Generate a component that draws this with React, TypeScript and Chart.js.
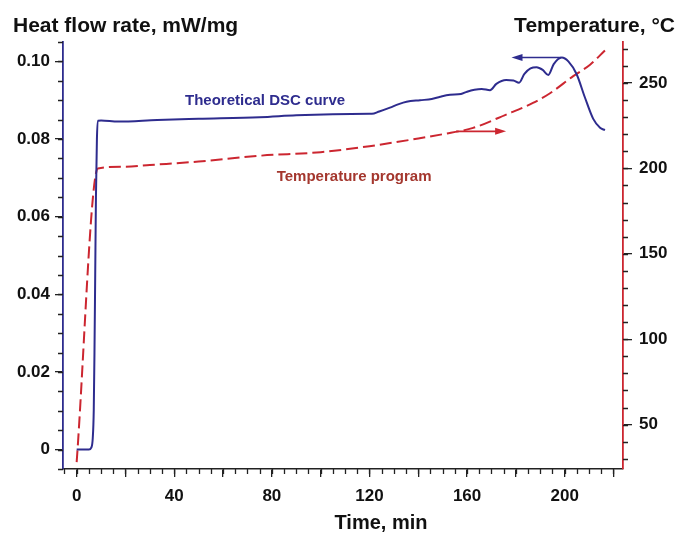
import React, { useEffect, useRef } from "react";
import { Chart, registerables } from "chart.js";

Chart.register(...registerables);

// ---- data ----
const TIME_DSC = [0, 5, 6, 6.6, 7.0, 7.3, 7.6, 7.9, 8.3, 8.8, 10, 17, 33, 50, 75, 90, 105, 120, 121, 124, 128.4, 132, 135.2, 140.7, 145.5, 149, 153, 157.5, 160, 163, 166, 169.4, 172, 176, 179, 181.3, 183.5, 186, 188.5, 191, 193.3, 195.5, 198.8, 201.5, 204.9, 208.3, 211.7, 214.5, 216.5];
const HEAT_FLOW = [0, 0, 0.0005, 0.003, 0.010, 0.025, 0.045, 0.065, 0.080, 0.0847, 0.0848, 0.0845, 0.0849, 0.0852, 0.0856, 0.0861, 0.0864, 0.0865, 0.0865, 0.0871, 0.0881, 0.0890, 0.0896, 0.0900, 0.0903, 0.0909, 0.0914, 0.0916, 0.0922, 0.0927, 0.0929, 0.0926, 0.0942, 0.0952, 0.0951, 0.0945, 0.0968, 0.0982, 0.0985, 0.0978, 0.0965, 0.0993, 0.1010, 0.1000, 0.0967, 0.0907, 0.0852, 0.0829, 0.0823];

const TIME_TEMP = [0, 8.7, 20, 30, 50, 75, 100, 120, 140, 150, 162.5, 176, 187, 194, 203.5, 210.4, 216.5];
const TEMPERATURE = [28, 200, 201, 202, 204, 207.4, 209.5, 213, 217.5, 220, 223.7, 231.5, 238.3, 244, 254, 260.7, 269];

const X_TICKS = [0, 20, 40, 60, 80, 100, 120, 140, 160, 180, 200, 220];
const X_LABELS = [0, 40, 80, 120, 160, 200];
const LEFT_TICKS = [0, 0.02, 0.04, 0.06, 0.08, 0.1];
const RIGHT_TICKS = [50, 100, 150, 200, 250];

const X_RANGE = [-5.6, 223.9];
const LEFT_RANGE = [-0.005, 0.105];
const RIGHT_RANGE = [24, 274];

const X_MINOR_STEP = 5;
const LEFT_MINOR_STEP = 0.005;
const RIGHT_MINOR_STEP = 10;

// annotations (data coordinates)
const DSC_ARROW = { y: 0.101, from: 198.5, to: 178.2 };
const TEMP_ARROW = { y: 221.7, from: 155.5, to: 176 };
const DSC_LABEL = { text: "Theoretical DSC curve", x: 77.2, y: 0.0899 };
const TEMP_LABEL = { text: "Temperature program", x: 113.7, y: 195.2 };

const NAVY = "#2e2c8e";
const RED = "#cc2630";
const BROWN = "#a4372e";
const FONT = "'Liberation Sans', Arial, sans-serif";

function minorValues(min: number, max: number, step: number) {
  const out: number[] = [];
  const start = Math.ceil(min / step - 1e-9);
  const end = Math.floor(max / step + 1e-9);
  for (let i = start; i <= end; i++) out.push(+(i * step).toFixed(6));
  return out;
}

const decorPlugin = {
  id: "decor",
  afterDraw(chart: any) {
    const { ctx, chartArea } = chart;
    const x = chart.scales.x;
    const y = chart.scales.y;
    const y1 = chart.scales.y1;
    ctx.save();

    // minor ticks
    ctx.lineWidth = 1.3;
    ctx.strokeStyle = "#222";
    ctx.beginPath();
    minorValues(X_RANGE[0], X_RANGE[1], X_MINOR_STEP).forEach((v) => {
      const p = Math.round(x.getPixelForValue(v)) + 0.5;
      ctx.moveTo(p, chartArea.bottom);
      ctx.lineTo(p, chartArea.bottom + 5);
    });
    ctx.stroke();
    ctx.beginPath();
    minorValues(LEFT_RANGE[0], LEFT_RANGE[1], LEFT_MINOR_STEP).forEach((v) => {
      const p = Math.round(y.getPixelForValue(v)) + 0.5;
      ctx.moveTo(chartArea.left, p);
      ctx.lineTo(chartArea.left - 5, p);
    });
    ctx.stroke();
    ctx.beginPath();
    minorValues(RIGHT_RANGE[0], RIGHT_RANGE[1], RIGHT_MINOR_STEP).forEach((v) => {
      const p = Math.round(y1.getPixelForValue(v)) + 0.5;
      ctx.moveTo(chartArea.right, p);
      ctx.lineTo(chartArea.right + 5, p);
    });
    ctx.stroke();

    // arrows
    const arrow = (x0: number, x1: number, py: number, color: string) => {
      ctx.strokeStyle = color;
      ctx.fillStyle = color;
      ctx.lineWidth = 1.6;
      const dir = Math.sign(x1 - x0);
      ctx.beginPath();
      ctx.moveTo(x0, py);
      ctx.lineTo(x1 - dir * 8, py);
      ctx.stroke();
      ctx.beginPath();
      ctx.moveTo(x1, py);
      ctx.lineTo(x1 - dir * 11, py - 3.5);
      ctx.lineTo(x1 - dir * 11, py + 3.5);
      ctx.closePath();
      ctx.fill();
    };
    arrow(
      x.getPixelForValue(DSC_ARROW.from),
      x.getPixelForValue(DSC_ARROW.to),
      y.getPixelForValue(DSC_ARROW.y),
      NAVY
    );
    arrow(
      x.getPixelForValue(TEMP_ARROW.from),
      x.getPixelForValue(TEMP_ARROW.to),
      y1.getPixelForValue(TEMP_ARROW.y),
      RED
    );

    // in-plot labels
    ctx.font = `bold 15px ${FONT}`;
    ctx.textAlign = "center";
    ctx.textBaseline = "middle";
    ctx.fillStyle = NAVY;
    ctx.fillText(DSC_LABEL.text, x.getPixelForValue(DSC_LABEL.x), y.getPixelForValue(DSC_LABEL.y));
    ctx.fillStyle = BROWN;
    ctx.fillText(TEMP_LABEL.text, x.getPixelForValue(TEMP_LABEL.x), y1.getPixelForValue(TEMP_LABEL.y));

    // axis titles
    ctx.fillStyle = "#111";
    ctx.textBaseline = "alphabetic";
    ctx.font = `bold 21px ${FONT}`;
    ctx.textAlign = "left";
    ctx.fillText("Heat flow rate, mW/mg", 13, 32);
    ctx.textAlign = "right";
    ctx.fillText("Temperature, \u00B0C", 675, 32);
    ctx.font = `bold 20px ${FONT}`;
    ctx.textAlign = "center";
    ctx.fillText("Time, min", 381, 529);

    ctx.restore();
  },
};

export default function App() {
  const ref = useRef<HTMLCanvasElement | null>(null);

  useEffect(() => {
    if (!ref.current) return;
    const tickFont = { family: FONT, size: 17, weight: "bold" as const };
    const chart = new Chart(ref.current, {
      type: "line",
      data: {
        datasets: [
          {
            label: "Theoretical DSC curve",
            data: TIME_DSC.map((t, i) => ({ x: t, y: HEAT_FLOW[i] })),
            yAxisID: "y",
            borderColor: NAVY,
            borderWidth: 2,
            pointRadius: 0,
            fill: false,
            cubicInterpolationMode: "monotone",
          },
          {
            label: "Temperature program",
            data: TIME_TEMP.map((t, i) => ({ x: t, y: TEMPERATURE[i] })),
            yAxisID: "y1",
            borderColor: RED,
            borderWidth: 2,
            borderDash: [12, 5],
            pointRadius: 0,
            fill: false,
            cubicInterpolationMode: "monotone",
          },
        ],
      },
      options: {
        responsive: false,
        animation: false,
        events: [],
        layout: { padding: { top: 42, left: 0, right: 0, bottom: 0 } },
        plugins: { legend: { display: false }, tooltip: { enabled: false } },
        scales: {
          x: {
            type: "linear",
            min: X_RANGE[0],
            max: X_RANGE[1],
            afterFit: (s: any) => {
              s.height = 64;
            },
            afterBuildTicks: (s: any) => {
              s.ticks = X_TICKS.map((v) => ({ value: v }));
            },
            ticks: {
              autoSkip: false,
              maxRotation: 0,
              padding: 9,
              color: "#111",
              font: tickFont,
              callback: (v: any) => (X_LABELS.includes(Number(v)) ? String(v) : ""),
            },
            grid: { drawOnChartArea: false, drawTicks: true, tickLength: 8, color: "#222", lineWidth: 1.3 },
            border: { display: true, color: "#222", width: 1.5 },
          },
          y: {
            type: "linear",
            position: "left",
            min: LEFT_RANGE[0],
            max: LEFT_RANGE[1],
            afterFit: (s: any) => {
              s.width = 63;
            },
            afterBuildTicks: (s: any) => {
              s.ticks = LEFT_TICKS.map((v) => ({ value: v }));
            },
            ticks: {
              padding: 5,
              color: "#111",
              font: tickFont,
              callback: (v: any) => (Number(v) === 0 ? "0" : Number(v).toFixed(2)),
            },
            grid: { drawOnChartArea: false, drawTicks: true, tickLength: 8, color: "#222", lineWidth: 1.3 },
            border: { display: true, color: NAVY, width: 1.8 },
          },
          y1: {
            type: "linear",
            position: "right",
            min: RIGHT_RANGE[0],
            max: RIGHT_RANGE[1],
            afterFit: (s: any) => {
              s.width = 58;
            },
            afterBuildTicks: (s: any) => {
              s.ticks = RIGHT_TICKS.map((v) => ({ value: v }));
            },
            ticks: {
              padding: 7,
              color: "#111",
              font: tickFont,
              callback: (v: any) => String(v),
            },
            grid: { drawOnChartArea: false, drawTicks: true, tickLength: 9, color: "#222", lineWidth: 1.3 },
            border: { display: true, color: RED, width: 1.8 },
          },
        },
      },
      plugins: [decorPlugin],
    });
    return () => chart.destroy();
  }, []);

  return (
    <div style={{ position: "fixed", left: 0, top: 0, width: 681, height: 533, background: "#fff" }}>
      <canvas ref={ref} width={681} height={533} style={{ display: "block" }} />
    </div>
  );
}
